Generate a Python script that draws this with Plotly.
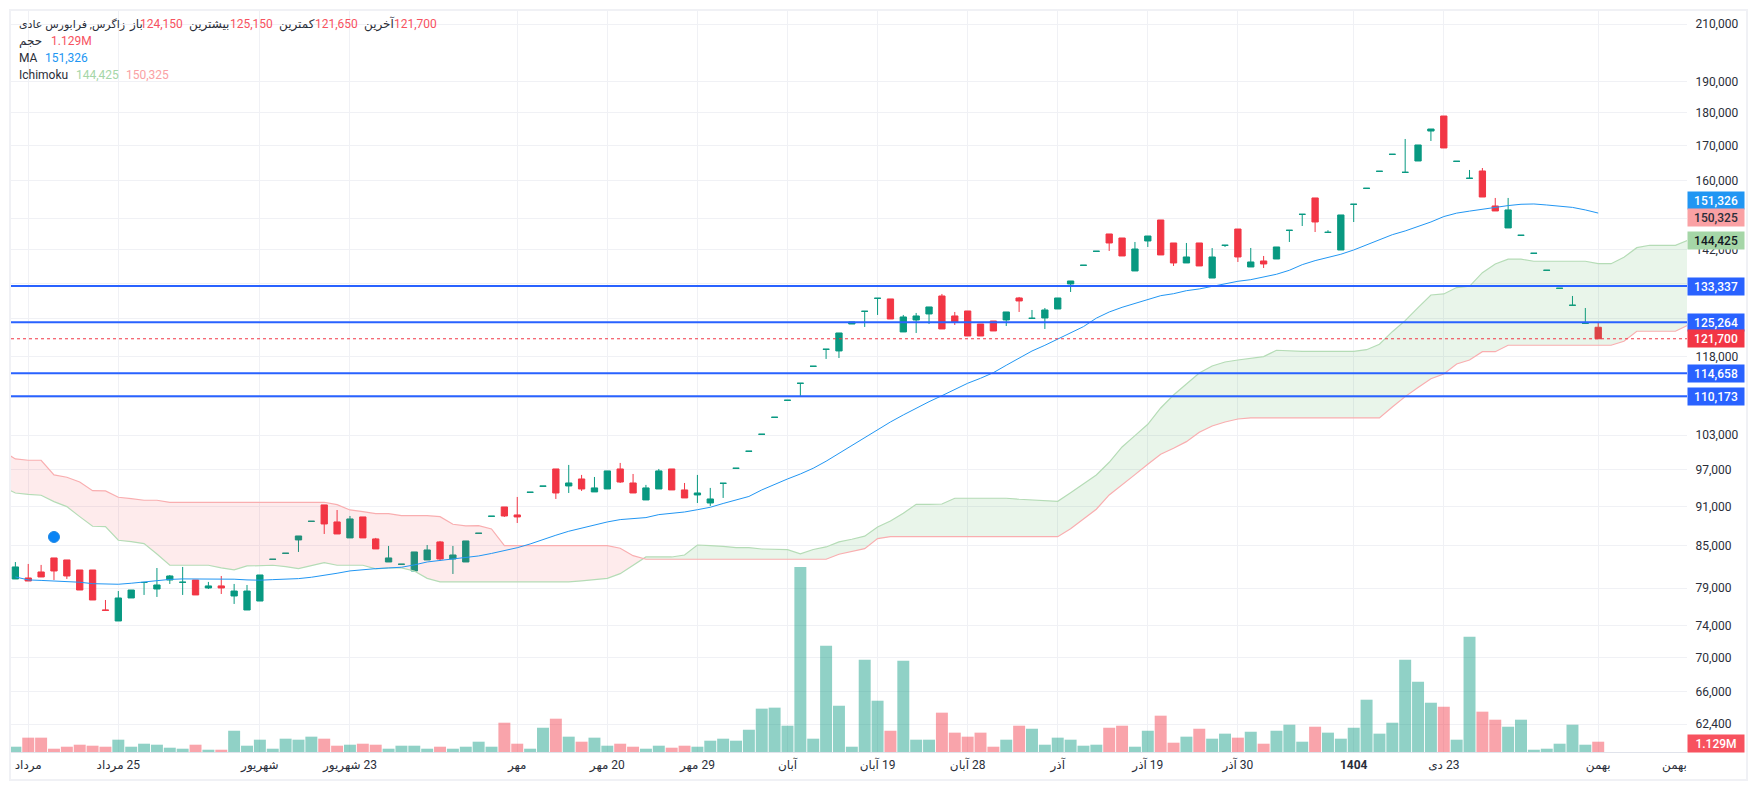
import math
import plotly.graph_objects as go

# === Candles (one per trading day) ===
opens = [80260,80400,81240,83240,82950,81520,81520,76050,74625,77660,
         79770,78880,80120,79800,80120,79020,79300,77930,76060,77250,
         83040,83910,85880,88690,91250,88600,86180,89370,86030,82660,
         82330,81380,82950,85580,83090,82660,86870,89470,90930,89680,
         93270,94260,97120,94300,95450,93330,93810,97120,94790,92040,
         93810,97120,93650,92840,91560,94730,97230,100140,103130,106210,
         109390,112660,116030,119500,119160,124860,127630,130540,130400,123150,
         125730,127050,131070,126610,127710,124860,125510,125730,130620,126090,
         126170,128150,133830,138230,141620,145940,144930,136880,144180,149520,
         143680,138790,143680,135210,143100,147200,137830,139270,139750,146860,
         150990,155340,146350,141950,153640,157950,162680,167540,162390,165620,
         174450,179050,165520,160720,162780,153200,147470,145600,141130,137030,
         132820,128970,125010,124150]
highs = [82650,82380,82240,83240,82950,81520,81520,77390,78600,78740,
         79780,81800,80820,81950,80120,79850,80680,79570,79430,80820,
         83050,83920,86470,88700,91250,90450,89520,89370,86180,84990,
         82340,84110,85130,85730,84990,85730,86880,89480,90930,92520,
         93280,94270,97120,97800,96120,95780,96790,98140,96280,94470,
         97120,97120,94790,96120,93980,94740,97240,100150,103140,106220,
         109400,112670,116040,119510,122930,125300,127640,130550,130400,126830,
         127270,128600,131530,127490,127710,124860,125510,127490,130850,127930,
         128370,130620,134520,138240,141630,145940,144930,143930,145430,149520,
         143680,143680,143680,142420,143110,147200,142440,140480,142690,146870,
         151000,155340,146900,150830,153650,157960,162690,167550,172060,170280,
         175060,179050,165530,163060,163620,155340,155340,145610,141140,137040,
         132830,131070,128370,125150]
lows = [80260,79980,80540,80120,80260,78740,77390,76020,74630,77660,
        78070,77800,79570,78070,78070,78880,78200,76860,76060,77250,
        83040,83910,84110,88690,86770,86770,86180,86180,84550,82660,
        82330,81380,82950,82800,80960,82660,86870,89470,89370,88440,
        93270,94260,92200,93160,93490,93330,93810,94790,93160,92040,
        93810,93650,92360,91560,91090,92360,97230,100140,103130,106210,
        109390,110220,116030,117520,117710,124860,124220,126830,125950,123150,
        122930,124860,123790,124650,122290,122290,123360,124430,127490,126090,
        123790,128150,131980,138230,141620,141710,140480,136880,142690,140730,
        138070,138790,138070,135210,142690,139030,137830,137590,139750,143930,
        147970,146440,146350,141950,149000,157950,162680,167540,162390,165620,
        171460,169400,165520,160720,155600,151880,147470,145600,141130,137030,
        132820,128970,125010,121650]
closes = [81950,79980,80540,81380,80680,78740,77390,76020,77660,78740,
          79780,79430,80680,79810,78070,79300,79020,78600,78600,80820,
          83050,83920,86470,88700,88290,86770,89060,86180,84550,83240,
          82340,84110,84400,83090,83670,85730,86880,89480,89520,89370,
          93280,94270,93160,94790,93810,93980,96790,94950,93160,93980,
          96790,93650,92360,93160,92200,94740,97240,100150,103140,106220,
          109400,112670,116040,119510,122930,125300,127640,130550,125950,126390,
          126610,128600,123790,125300,122290,122290,123360,127490,129950,126100,
          127930,130620,134520,138240,141630,143680,140480,142190,145430,140730,
          138790,140240,138070,140240,143110,140240,139030,138550,142690,146870,
          151000,149010,146360,150830,153650,157960,162690,167550,162400,170280,
          175060,169400,165530,160730,155600,151880,152150,145610,141140,137040,
          132830,128980,125020,121700]

# volume in millions
volumes = [.58,1.57,1.57,.36,.58,.80,.69,.58,1.35,.58,
           .91,.80,.47,.36,.80,.25,.25,2.33,.69,1.35,
           .36,1.46,1.35,1.68,1.46,.69,.80,.91,.80,.36,
           .69,.69,.36,.58,.36,.58,1.13,.58,3.21,.91,
           .36,2.66,3.65,1.68,1.13,1.57,.69,.91,.58,.36,
           .69,.47,.69,.58,1.24,1.46,1.24,2.44,4.75,4.86,
           2.88,20.28,1.46,11.65,5.07,.58,10.12,5.62,2.33,10.0,
           1.35,1.35,4.31,2.12,1.68,2.12,.58,1.35,2.88,2.55,
           .80,1.57,1.35,.69,.80,2.66,2.88,.58,2.33,3.98,
           1.02,1.68,2.55,1.46,2.01,1.57,2.22,.91,2.33,2.99,
           1.13,2.77,2.12,1.46,2.66,5.73,2.01,3.21,10.12,7.70,
           5.40,4.96,1.35,12.64,4.42,3.54,2.77,3.54,.25,.36,
           .91,2.99,.80,1.129]

ma_values = [80545,80130,80060,79990,79890,79810,79610,79530,79530,79670,
             79850,80090,80200,80270,80270,80270,80270,80230,80130,80090,
             80170,80230,80310,80500,80730,81060,81390,81570,81710,81810,
             81910,82240,82660,82880,83100,83310,83530,83890,84260,84730,
             85280,85980,86580,87180,87680,88140,88600,88960,89110,89270,
             89730,89880,90140,90500,90880,91480,92040,92600,93650,94580,
             95450,96280,97240,98430,99800,101120,102480,104040,105360,106650,
             107950,109130,110270,111510,112670,113650,114760,116240,117720,119150,
             120330,121590,122870,124290,126130,127480,128520,129420,130400,131140,
             131590,132280,132680,133290,133890,134450,134830,135400,136100,137040,
             138380,139350,140160,140900,141950,143180,144520,145760,146710,147800,
             149010,150410,151310,151840,152370,152850,153300,153650,153730,153460,
             153190,152820,152150,151326]

# === Ichimoku cloud, starts one day before the first candle, runs past the last one ===
span_a = [94140,93160,92950,92790,91770,90980,89420,87940,87880,85830,85620,85330,83820,
          82190,82190,82190,82190,81810,81530,82090,82190,82190,81990,81710,82130,82560,
          82190,82190,82190,81670,81810,81810,81380,80350,
          79850,79850,79850,79850,79850,79850,79850,79850,79850,79850,79850,
          79990,80220,80350,81000,82230,83380,83380,83380,83670,85130,85030,84940,84730,84730,
          84540,84500,84440,83820,84470,84840,85580,85980,86440,87830,88750,89940,91350,91350,91400,
          92310,92310,92310,92310,92310,92150,92040,92040,91830,93210,94630,96120,98250,
          100900,102890,104940,107950,110410,112530,114700,116100,116900,117310,117660,117990,
          119300,119150,119090,119090,119090,119090,119090,119420,120550,123210,125580,128440,
          131300,131530,133000,133290,136470,138550,139700,139700,
          139200,139200,139200,139200,139200,138620,138620,140160,142520,143110,143110,143110,144425]
span_b = [100200,98820,98600,98600,96120,95730,94950,93540,93490,92470,92250,91990,91990,
          91670,91670,91670,91670,91670,91670,91670,91670,91670,91670,91670,91670,91670,
          91290,90460,90190,89880,89880,89570,89570,89570,89420,88240,87990,88030,87530,
          85030,85030,85030,85030,85030,85030,85030,85030,85030,84650,83570,
          83050,83050,83050,83050,83050,83050,83050,83050,83050,83050,83050,83050,83050,83050,83050,
          83770,84150,84590,86070,
          86370,86370,86370,86370,86370,86370,86370,86370,86370,86370,86370,86370,86370,86370,
          87570,89060,90570,92840,94420,96170,97910,99620,100670,101830,103500,104630,105360,105910,
          106100,106100,106100,106100,106100,106100,106100,106100,106100,106100,106100,
          108140,110090,111830,113570,114500,116500,117310,119010,119010,
          120340,120340,120340,120340,120340,120340,120340,120340,120340,
          121170,123300,123300,123300,123300,124650]
CLOUD_START = -1
CLOUD_CROSS = 50  # position in the span lists where the cloud flips from red to green

# === Levels and tick labels ===
levels = [133337, 125264, 114658, 110173]
last_price = 121700
dot_day, dot_price = 3, 86320

price_ticks = [210000, 190000, 180000, 170000, 160000, 150000, 142000, 134000, 126000, 118000,
               110000, 103000, 97000, 91000, 85000, 79000, 74000, 70000, 66000, 62400]
hidden_ticks = [150000, 134000, 110000]  # grid line only, the tag covers the label
date_ticks = [1, 8, 19, 26, 39, 46, 53, 60, 67, 74, 81, 88, 95, 104, 111, 123]
date_labels = ['مرداد', '25 مرداد', 'شهریور', '23 شهریور', 'مهر', '20 مهر', '29 مهر', 'آبان',
               '19 آبان', '28 آبان', 'آذر', '19 آذر', '30 آذر', '<b>1404</b>', '23 دی', 'بهمن']
# svg text is ltr, embed rtl so the day number lands on the right of the month
date_labels = ['\u202b' + s + '\u202c' if s[0].isdigit() else s for s in date_labels]

# price axis tags: value, background, text colour, shift in px
price_tags = [(151326, '#2196f3', '#ffffff', 13),
              (150325, '#faa1a4', '#2a2e39', -1),
              (144425, '#a5d6a7', '#131722', 0),
              (133337, '#2962ff', '#ffffff', 0),
              (125264, '#2962ff', '#ffffff', 0),
              (121700, '#f23645', '#ffffff', 0),
              (114658, '#2962ff', '#ffffff', 0),
              (110173, '#2962ff', '#ffffff', 0)]

# header: left px, centre y px, text, colour, size
TEXT_DARK = '#2a2e39'
VAL_RED = '#f7525f'
header = [(17, 24, 'زاگرس, فرابورس عادی', TEXT_DARK, 11),
          (127, 24, 'باز', TEXT_DARK, 12), (137.5, 24, '124,150', VAL_RED, 12),
          (187, 24, 'بیشترین', TEXT_DARK, 12), (228, 24, '125,150', VAL_RED, 12),
          (277, 24, 'کمترین', TEXT_DARK, 12), (313, 24, '121,650', VAL_RED, 12),
          (362, 24, 'آخرین', TEXT_DARK, 12), (391.5, 24, '121,700', VAL_RED, 12),
          (17, 41, 'حجم', TEXT_DARK, 12), (49, 41, '1.129M', VAL_RED, 12),
          (17, 58, 'MA', TEXT_DARK, 12), (43, 58, '151,326', '#2196f3', 12),
          (17, 75, 'Ichimoku', TEXT_DARK, 12), (74, 75, '144,425', '#a5d6a7', 12), (124, 75, '150,325', '#faa1a4', 12)]

GREEN = '#089981'
RED = '#f23645'
FONT = 'Roboto, "DejaVu Sans", sans-serif'

# plot area inside the page, px
W, H = 1757, 790
LEFT, RIGHT, TOP, BOTTOM = 11, 1687, 11, 752
X_RANGE = [-0.34, 129.9]
Y_RANGE = [math.log10(59466), math.log10(214786)]
VOL_TOP = 81.2


def px_x(px):
    return (px - LEFT) / (RIGHT - LEFT)


def px_y(px):
    return (BOTTOM - px) / (BOTTOM - TOP)


days = list(range(len(opens)))
cloud_days = [CLOUD_START + i for i in range(len(span_a))]
vol_colors = ['rgba(8,153,129,0.45)' if c >= o else 'rgba(242,54,69,0.45)' for o, c in zip(opens, closes)]

fig = go.Figure()

# volume on its own overlay axis
fig.add_trace(go.Bar(x=days, y=volumes, marker=dict(color=vol_colors, line_width=0), yaxis='y2', hoverinfo='skip'))

# cloud fills
for start, end, fill in [(0, CLOUD_CROSS + 1, 'rgba(242,54,69,0.10)'),
                         (CLOUD_CROSS, len(span_a), 'rgba(76,175,80,0.12)')]:
    fig.add_trace(go.Scatter(x=cloud_days[start:end], y=span_a[start:end], mode='lines',
                             line=dict(width=0), hoverinfo='skip'))
    fig.add_trace(go.Scatter(x=cloud_days[start:end], y=span_b[start:end], mode='lines',
                             line=dict(width=0), fill='tonexty', fillcolor=fill, hoverinfo='skip'))

fig.add_trace(go.Scatter(x=cloud_days, y=span_a, mode='lines', line=dict(color='#b5dcb6', width=1.2), hoverinfo='skip'))
fig.add_trace(go.Scatter(x=cloud_days, y=span_b, mode='lines', line=dict(color='#f9aeb0', width=1.2), hoverinfo='skip'))
fig.add_trace(go.Scatter(x=days, y=ma_values, mode='lines', line=dict(color='#2196f3', width=1), hoverinfo='skip'))

# horizontal levels
for level in levels:
    fig.add_trace(go.Scatter(x=X_RANGE, y=[level, level], mode='lines',
                             line=dict(color='#2962ff', width=2), hoverinfo='skip'))
fig.add_trace(go.Scatter(x=X_RANGE, y=[last_price, last_price], mode='lines',
                         line=dict(color=RED, width=1, dash='dot'), hoverinfo='skip'))

fig.add_trace(go.Candlestick(x=days, open=opens, high=highs, low=lows, close=closes,
                             increasing=dict(line=dict(color=GREEN, width=1), fillcolor=GREEN),
                             decreasing=dict(line=dict(color=RED, width=1), fillcolor=RED),
                             whiskerwidth=0, hoverinfo='skip'))

fig.add_trace(go.Scatter(x=[dot_day], y=[dot_price], mode='markers',
                         marker=dict(color='#0a84f5', size=11, line=dict(color='#1e88e5', width=1)),
                         hoverinfo='skip'))

annotations = []
for px, py, text, color, size in header:
    annotations.append(dict(xref='paper', yref='paper', x=px_x(px), y=px_y(py), text=text,
                            showarrow=False, xanchor='left', yanchor='middle',
                            font=dict(color=color, size=size, family=FONT)))

for value, bg, fg, shift in price_tags:
    annotations.append(dict(xref='paper', yref='y', x=1, y=math.log10(value), text=f'{value:,}',
                            showarrow=False, xanchor='left', yanchor='middle', yshift=shift,
                            width=56, height=17, align='center', bgcolor=bg, borderpad=0,
                            font=dict(color=fg, size=12, family=FONT, weight=500)))

annotations.append(dict(xref='paper', yref='paper', x=1, y=px_y(743), text='1.129M',
                        showarrow=False, xanchor='left', yanchor='middle',
                        width=56, height=17, align='center', bgcolor='#f7525f', borderpad=0,
                        font=dict(color='#ffffff', size=12, family=FONT, weight=500)))

# second بهمن sits in the empty future part and has no grid line
annotations.append(dict(xref='paper', yref='paper', x=px_x(1689), y=px_y(765), text='بهمن',
                        showarrow=False, xanchor='right', yanchor='middle',
                        font=dict(color=TEXT_DARK, size=12, family=FONT)))

fig.update_layout(
    width=W, height=H, showlegend=False,
    paper_bgcolor='#ffffff', plot_bgcolor='#ffffff',
    margin=dict(l=LEFT, r=W - RIGHT, t=TOP, b=H - BOTTOM, pad=0, autoexpand=False),
    font=dict(family=FONT, size=12, color=TEXT_DARK),
    bargap=0.07,
    boxgap=0.3,
    xaxis=dict(range=X_RANGE, tickmode='array', tickvals=date_ticks, ticktext=date_labels,
               showgrid=True, gridcolor='#f0f1f5', gridwidth=1, zeroline=False,
               showline=True, linecolor='#e0e3eb', linewidth=1,
               ticks='outside', ticklen=2, tickcolor='rgba(0,0,0,0)',
               rangeslider=dict(visible=False), tickfont=dict(size=12, color=TEXT_DARK)),
    yaxis=dict(type='log', range=Y_RANGE, side='right', tickmode='array',
               tickvals=price_ticks,
               ticktext=['' if v in hidden_ticks else f'{v:,}' for v in price_ticks],
               showgrid=True, gridcolor='#f0f1f5', gridwidth=1, zeroline=False, showline=False,
               ticks='outside', ticklen=5, tickcolor='rgba(0,0,0,0)',
               tickfont=dict(size=12, color=TEXT_DARK)),
    yaxis2=dict(overlaying='y', range=[0, VOL_TOP], visible=False, side='left'),
    annotations=annotations,
    shapes=[dict(type='rect', xref='paper', yref='paper', layer='below',
                 x0=px_x(10), x1=px_x(1747), y0=px_y(780), y1=px_y(10),
                 line=dict(color='#f0f1f5', width=2), fillcolor='rgba(0,0,0,0)')],
)

fig.write_html('out.html', config={'displayModeBar': False},
               post_script="document.body.style.margin='0';document.body.style.overflow='hidden';")
